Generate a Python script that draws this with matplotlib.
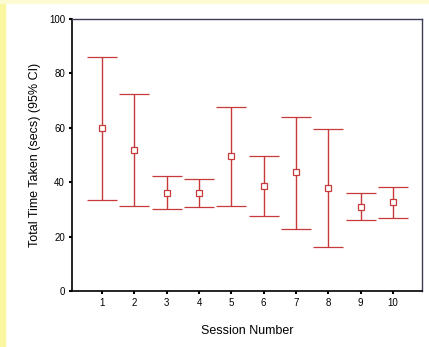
import matplotlib
matplotlib.use('Agg')
import matplotlib.pyplot as plt
import matplotlib.patches as patches

plt.rcParams['font.family'] = ['Liberation Sans', 'DejaVu Sans']

# -----------------------------
# Dados
# -----------------------------
sessoes = [1, 2, 3, 4, 5, 6, 7, 8, 9, 10]
media = [60.0, 51.7, 36.0, 36.0, 49.6, 38.7, 43.6, 37.9, 30.9, 32.6]
ic_sup = [86.1, 72.4, 42.4, 41.3, 67.5, 49.6, 64.1, 59.6, 36.0, 38.1]
ic_inf = [33.6, 31.4, 30.1, 30.9, 31.4, 27.7, 22.8, 16.3, 26.1, 26.9]

vermelho = '#c83a3a'

fig = plt.figure(figsize=(4.29, 3.47), dpi=100)
fig.patch.set_facecolor('white')
# faixas amarelas na borda
fig.patches.append(patches.Rectangle((0, 0), 5 / 429, 1, transform=fig.transFigure,
                                     color='#fbf7a0', zorder=0))
fig.patches.append(patches.Rectangle((0, 1 - 3 / 347), 1, 3 / 347, transform=fig.transFigure,
                                     color='#fcfbd2', zorder=0))

ax = fig.add_axes([72 / 429, 1 - 291 / 347, 350 / 429, 272 / 347])

err_baixo = [m - l for m, l in zip(media, ic_inf)]
err_cima = [u - m for m, u in zip(media, ic_sup)]
ax.errorbar(sessoes, media, yerr=[err_baixo, err_cima], fmt='s', color=vermelho,
            mfc='white', mec=vermelho, ms=5, mew=0.9, elinewidth=1.0,
            capsize=11, capthick=1.0)

ax.set_xlim(0.07, 10.9)
ax.set_ylim(0, 100)
ax.set_xticks(sessoes)
ax.set_yticks([0, 20, 40, 60, 80, 100])
ax.tick_params(axis='both', labelsize=7, length=2, width=1.5, direction='out', pad=3)

for lado in ['left', 'bottom']:
    ax.spines[lado].set_color('black')
    ax.spines[lado].set_linewidth(1.2)
for lado in ['top', 'right']:
    ax.spines[lado].set_color('#3a3d55')
    ax.spines[lado].set_linewidth(1.0)

ax.set_xlabel('Session Number', fontsize=9, labelpad=12)
ax.set_ylabel('Total Time Taken (secs) (95% CI)', fontsize=9, labelpad=6)

fig.savefig('out.png', dpi=100)
